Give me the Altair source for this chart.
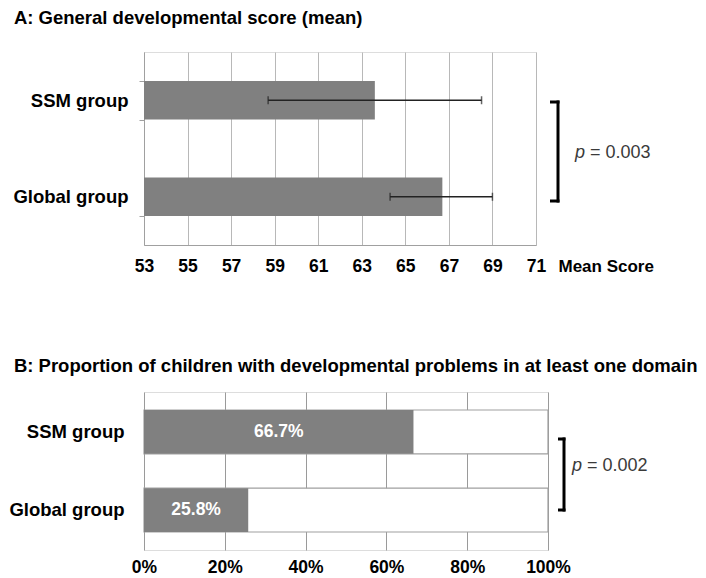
import altair as alt
import pandas as pd

# ---------------- data ----------------
groups = ["SSM group", "Global group"]
mean_scores = [63.6, 66.7]
err_low = [58.7, 64.3]
err_high = [68.5, 69.0]
x_ticks_a = [53, 55, 57, 59, 61, 63, 65, 67, 69, 71]

prop_values = [66.7, 25.8]
prop_labels = ["66.7%", "25.8%"]
prop_full = [100, 100]
x_ticks_b = [0, 20, 40, 60, 80, 100]

p_values = ["0.003", "0.002"]

title_a = "A: General developmental score (mean)"
title_b = "B: Proportion of children with developmental problems in at least one domain"

FONT = "Liberation Sans"
GRAY = "#808080"
LABEL_SIZE = 18.5
TICK_SIZE = 17.5
TITLE_SIZE = 18.5

dfa = pd.DataFrame({"group": groups, "mean": mean_scores, "lo": err_low, "hi": err_high})
dfb = pd.DataFrame({"group": groups, "value": prop_values, "label": prop_labels, "full": prop_full})
dfpa = pd.DataFrame({"p": ["p"], "rest": ["= " + p_values[0]]})
dfpb = pd.DataFrame({"p": ["p"], "rest": ["= " + p_values[1]]})

# ---------------- panel A ----------------
WA, HA = 392, 193
xsc_a = alt.Scale(domain=[x_ticks_a[0], x_ticks_a[-1]], nice=False, zero=False)
ysc_a = alt.Scale(domain=groups, paddingInner=0.6, paddingOuter=0.3)

x_axis_a = alt.Axis(
    values=x_ticks_a, title="Mean Score", grid=True, gridColor="#b8b8b8",
    domain=True, domainColor="#a0a0a0", ticks=False, labelPadding=12,
    labelFont=FONT, labelFontSize=TICK_SIZE, labelFontWeight="bold", labelColor="#000",
    titleFont=FONT, titleFontSize=17, titleFontWeight="bold", titleColor="#000",
    titleX=WA + 22, titleY=21, titleAlign="left", titleBaseline="middle",
    labelFlush=False,
)
y_axis_a = alt.Axis(
    title=None, domain=True, domainColor="#a0a0a0", ticks=True, tickBand="extent",
    tickSize=5, tickColor="#a0a0a0", labelPadding=11, grid=False,
    labelFont=FONT, labelFontSize=LABEL_SIZE, labelFontWeight="bold", labelColor="#000",
)

base_a = alt.Chart(dfa)
bars_a = base_a.mark_bar(color=GRAY).encode(
    x=alt.X("mean:Q", scale=xsc_a, axis=x_axis_a),
    x2=alt.X2(datum=x_ticks_a[0]),
    y=alt.Y("group:N", scale=ysc_a, axis=y_axis_a, sort=groups),
)
err_rule = base_a.mark_rule(color="#222", strokeWidth=1.3).encode(
    x="lo:Q", x2="hi:Q", y=alt.Y("group:N", sort=groups),
)
cap_lo = base_a.mark_tick(color="#222", size=8, thickness=1.5).encode(
    x="lo:Q", y=alt.Y("group:N", sort=groups),
)
cap_hi = base_a.mark_tick(color="#222", size=8, thickness=1.5).encode(
    x="hi:Q", y=alt.Y("group:N", sort=groups),
)

pa = alt.Chart(dfpa)
br_a_v = pa.mark_rule(color="#000", strokeWidth=3).encode(
    x=alt.value(414), y=alt.value(48.5), y2=alt.value(150.5))
br_a_t = pa.mark_rule(color="#000", strokeWidth=3).encode(
    x=alt.value(406), x2=alt.value(415.5), y=alt.value(50))
br_a_b = pa.mark_rule(color="#000", strokeWidth=3).encode(
    x=alt.value(406), x2=alt.value(415.5), y=alt.value(149))
p_a = pa.mark_text(font=FONT, fontSize=18, fontStyle="italic", color="#3a3a3a",
                   align="left", baseline="middle").encode(
    x=alt.value(431), y=alt.value(101), text="p:N")
rest_a = pa.mark_text(font=FONT, fontSize=18, color="#3a3a3a",
                      align="left", baseline="middle").encode(
    x=alt.value(446), y=alt.value(101), text="rest:N")

chart_a = alt.layer(bars_a, err_rule, cap_lo, cap_hi, br_a_v, br_a_t, br_a_b, p_a, rest_a).properties(
    width=WA, height=HA,
    title=alt.TitleParams(title_a, anchor="start", frame="bounds", font=FONT, fontSize=TITLE_SIZE,
                          fontWeight="bold", color="#000", offset=16, dx=1),
)

# ---------------- panel B ----------------
WB, HB = 404, 158
xsc_b = alt.Scale(domain=[x_ticks_b[0], x_ticks_b[-1]], nice=False)
ysc_b = alt.Scale(domain=groups, paddingInner=0.44, paddingOuter=0.23)

x_axis_b = alt.Axis(
    values=x_ticks_b, title=None, grid=True, gridColor="#9a9a9a",
    domain=False, ticks=False, labelPadding=8, labelExpr="datum.value + '%'",
    labelFont=FONT, labelFontSize=TICK_SIZE, labelFontWeight="bold", labelColor="#000",
    labelFlush=False,
)
y_axis_b = alt.Axis(
    title=None, domain=False, ticks=False, labelPadding=20, grid=False,
    labelFont=FONT, labelFontSize=LABEL_SIZE, labelFontWeight="bold", labelColor="#000",
)

base_b = alt.Chart(dfb)
bg_b = base_b.mark_bar(color="white", stroke="#a0a0a0", strokeWidth=1.2).encode(
    x=alt.X("full:Q", scale=xsc_b, axis=x_axis_b),
    x2=alt.X2(datum=0),
    y=alt.Y("group:N", scale=ysc_b, axis=y_axis_b, sort=groups),
)
fg_b = base_b.mark_bar(color=GRAY).encode(
    x="value:Q", x2=alt.X2(datum=0), y=alt.Y("group:N", sort=groups),
)
lab_b = base_b.transform_calculate(mid="datum.value / 2").mark_text(
    font=FONT, fontSize=TICK_SIZE, fontWeight="bold", color="white", baseline="middle", align="center"
).encode(
    x="mid:Q", y=alt.Y("group:N", sort=groups), text="label:N",
)

pb = alt.Chart(dfpb)
br_b_v = pb.mark_rule(color="#000", strokeWidth=3).encode(
    x=alt.value(420), y=alt.value(45.5), y2=alt.value(119.5))
br_b_t = pb.mark_rule(color="#000", strokeWidth=3).encode(
    x=alt.value(414), x2=alt.value(421.5), y=alt.value(47))
br_b_b = pb.mark_rule(color="#000", strokeWidth=3).encode(
    x=alt.value(414), x2=alt.value(421.5), y=alt.value(118))
p_b = pb.mark_text(font=FONT, fontSize=18, fontStyle="italic", color="#3a3a3a",
                   align="left", baseline="middle").encode(
    x=alt.value(428), y=alt.value(74), text="p:N")
rest_b = pb.mark_text(font=FONT, fontSize=18, color="#3a3a3a",
                      align="left", baseline="middle").encode(
    x=alt.value(443), y=alt.value(74), text="rest:N")

chart_b = alt.layer(bg_b, fg_b, lab_b, br_b_v, br_b_t, br_b_b, p_b, rest_b).properties(
    width=WB, height=HB,
    title=alt.TitleParams(title_b, anchor="start", frame="bounds", font=FONT, fontSize=TITLE_SIZE,
                          fontWeight="bold", color="#000", offset=17, dx=5),
)

chart = alt.vconcat(chart_a, chart_b, spacing=81).properties(
    padding={"top": 0, "left": 0, "right": 0, "bottom": 0},
).configure_view(stroke=None).configure(background="white")

chart.save("out.html", embed_options={"renderer": "svg", "actions": False})
